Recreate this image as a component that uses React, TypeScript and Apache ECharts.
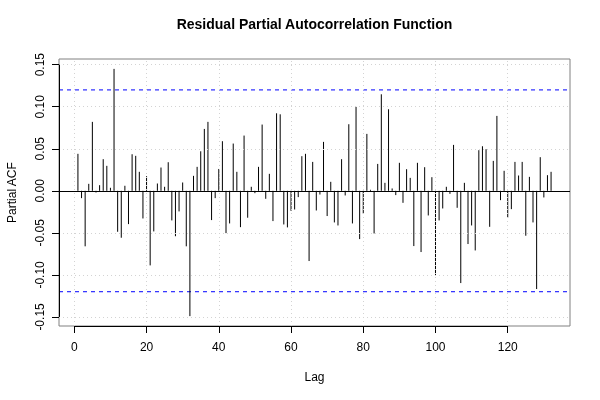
import React, { useEffect, useRef } from 'react';
import * as echarts from 'echarts';

// Partial autocorrelation values for lags 1..132
const pacf: number[] = [
  0.044, -0.0087, -0.066, 0.0083, 0.082, -0.002, 0.0067, 0.0376, 0.0297, 0.0036,
  0.145, -0.0487, -0.0558, 0.006, -0.0396, 0.0435, 0.0416, 0.0226, -0.0329, 0.0174,
  -0.0887, -0.0483, 0.0087, 0.0277, 0.0048, 0.034, -0.0352, -0.054, -0.0245, 0.0099,
  -0.066, -0.149, 0.0178, 0.0285, 0.047, 0.0736, 0.082, -0.0348, -0.0087, 0.026,
  0.059, -0.0503, -0.0388, 0.0562, 0.0226, -0.0432, 0.0657, -0.032, 0.0048, -0.0028,
  0.0285, 0.0788, -0.0095, 0.0202, -0.036, 0.0922, 0.091, -0.04, -0.0435, -0.0238,
  -0.0222, -0.0075, 0.0412, 0.044, -0.0835, 0.0344, -0.0234, -0.0044, 0.0582, -0.03,
  0.0107, -0.0376, -0.0412, 0.0376, -0.0055, 0.0792, -0.0388, 0.0998, -0.0574, -0.0269,
  0.0677, 0.0012, -0.0507, 0.032, 0.1148, 0.0095, 0.097, 0.0028, -0.0051, 0.0333,
  -0.0143, 0.0257, 0.0154, -0.0657, 0.0333, -0.0728, 0.0281, -0.0293, 0.0162, -0.1013,
  -0.0352, -0.021, 0.0048, -0.0036, 0.0546, -0.0202, -0.1097, 0.0095, -0.0633, -0.0412,
  -0.0709, 0.0483, 0.053, 0.0495, -0.0428, 0.0356, 0.0891, -0.0111, 0.0238, -0.0317,
  -0.0218, 0.0344, 0.0182, 0.0344, -0.0534, 0.0166, -0.0376, -0.1168, 0.04, -0.0079,
  0.0186, 0.0226,
];

const xTicks: number[] = [0, 20, 40, 60, 80, 100, 120];
const yTicks: number[] = [-0.15, -0.1, -0.05, 0, 0.05, 0.1, 0.15];
const confLimit = 0.12;

const FONT = '"Liberation Sans", Arial, Helvetica, sans-serif';

export default function App() {
  const ref = useRef<HTMLDivElement>(null);

  useEffect(() => {
    if (!ref.current) return;
    const chart = echarts.init(ref.current, null, { renderer: 'svg' });

    const n = pacf.length;
    const lagData = pacf.map((v, i) => [i + 1, v]);
    const lo = Math.min(...pacf, -confLimit);
    const hi = Math.max(...pacf, confLimit);
    const yMin = lo - 0.04 * (hi - lo);
    const yMax = hi + 0.04 * (hi - lo);
    const xMin = 1 - 0.04 * (n - 1);
    const xMax = n + 0.04 * (n - 1);

    const helper = (z: number, lineStyle: any, data: any[]) => ({
      type: 'line',
      data: [],
      z,
      silent: true,
      markLine: {
        symbol: 'none',
        silent: true,
        animation: false,
        label: { show: false },
        emphasis: { disabled: true },
        lineStyle,
        data,
      },
    });

    const confLine = (level: number) => ({
      type: 'line',
      z: 2,
      silent: true,
      symbol: 'none',
      showSymbol: false,
      color: '#0000ff',
      lineStyle: { color: '#0000ff', type: [4, 4], width: 1 },
      emphasis: { disabled: true },
      data: [
        [xMin, level],
        [xMax, level],
      ],
    });

    chart.setOption({
      animation: false,
      grid: {
        left: 59,
        top: 59,
        width: 511,
        height: 267,
        show: true,
        borderColor: '#808080',
        borderWidth: 1,
        backgroundColor: 'transparent',
        containLabel: false,
        outerBoundsMode: 'none',
      },
      xAxis: {
        type: 'value',
        min: xMin,
        max: xMax,
        axisLine: { show: false, onZero: false },
        splitLine: { show: false },
        axisTick: {
          show: true,
          customValues: xTicks,
          length: 7,
          lineStyle: { color: '#000', width: 1 },
        },
        axisLabel: {
          customValues: xTicks,
          color: '#000',
          fontSize: 12,
          fontFamily: FONT,
          margin: 15,
          formatter: (v: number) => String(v),
        },
      },
      yAxis: {
        type: 'value',
        min: yMin,
        max: yMax,
        axisLine: { show: false, onZero: false },
        splitLine: { show: false },
        axisTick: {
          show: true,
          customValues: yTicks,
          length: 7,
          lineStyle: { color: '#000', width: 1 },
        },
        axisLabel: {
          customValues: yTicks,
          color: '#000',
          fontSize: 12,
          fontFamily: FONT,
          rotate: 90,
          margin: 13,
          formatter: (v: number) => v.toFixed(2),
        },
      },
      series: [
        helper(1, { color: '#d3d3d3', type: [1, 3], width: 1 }, [
          ...xTicks.map((v) => ({ xAxis: v })),
          ...yTicks.map((v) => ({ yAxis: v })),
        ]),
        confLine(confLimit),
        confLine(-confLimit),
        helper(4, { color: '#000000', type: 'solid', width: 1 }, [
          { yAxis: 0 },
          [{ coord: [xTicks[0], yMin] }, { coord: [xTicks[xTicks.length - 1], yMin] }],
          [{ coord: [xMin, yTicks[0]] }, { coord: [xMin, yTicks[yTicks.length - 1]] }],
        ]),
        {
          type: 'custom',
          z: 3,
          silent: true,
          data: lagData,
          renderItem: (params: any, api: any) => {
            const x = api.value(0);
            const y = api.value(1);
            const p0 = api.coord([x, 0]);
            const p1 = api.coord([x, y]);
            return {
              type: 'line',
              shape: { x1: p0[0], y1: p0[1], x2: p1[0], y2: p1[1] },
              style: { stroke: '#000', lineWidth: 1 },
            };
          },
        },
      ],
      graphic: [
        {
          type: 'text',
          x: 314.5,
          y: 24,
          style: {
            text: 'Residual Partial Autocorrelation Function',
            fontSize: 14,
            fontWeight: 'bold',
            fontFamily: FONT,
            fill: '#000',
            align: 'center',
            verticalAlign: 'middle',
          },
        },
        {
          type: 'text',
          x: 314.5,
          y: 377,
          style: {
            text: 'Lag',
            fontSize: 12,
            fontFamily: FONT,
            fill: '#000',
            align: 'center',
            verticalAlign: 'middle',
          },
        },
        {
          type: 'text',
          x: 12,
          y: 192.6,
          rotation: Math.PI / 2,
          style: {
            text: 'Partial ACF',
            fontSize: 12,
            fontFamily: FONT,
            fill: '#000',
            align: 'center',
            verticalAlign: 'middle',
          },
        },
      ],
    });

    return () => chart.dispose();
  }, []);

  return (
    <div
      ref={ref}
      style={{ position: 'fixed', left: 0, top: 0, width: 600, height: 400 }}
    />
  );
}
